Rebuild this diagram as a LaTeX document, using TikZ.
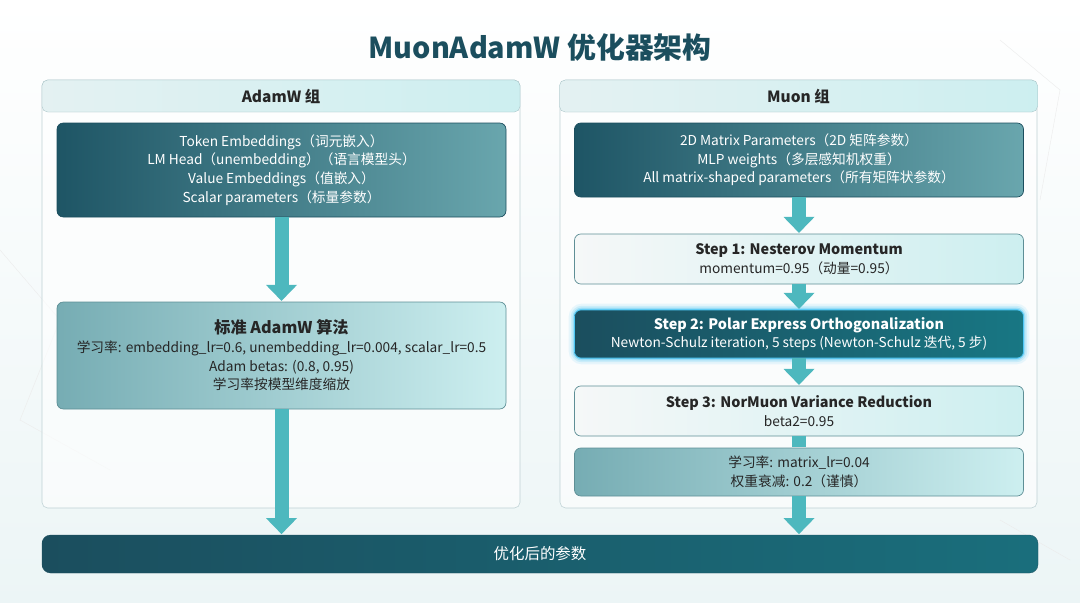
\documentclass[tikz,border=0pt]{standalone}
\usepackage{fontspec}
\setmainfont{Noto Sans CJK SC}
\usetikzlibrary{arrows.meta,positioning}
\definecolor{titleteal}{HTML}{1B4E5E}
\definecolor{darkteal}{HTML}{1E5565}
\definecolor{midteal}{HTML}{5E9EA6}
\definecolor{lightteal}{HTML}{CDEFF0}
\definecolor{paleteal}{HTML}{E4F1F2}
\definecolor{flowteal}{HTML}{4DB8BE}
\definecolor{edgeteal}{HTML}{5E8F96}
\def\pxu{0.05cm}
\tikzset{
  panel/.style={draw=edgeteal!40, rounded corners=8pt, fill=white, fill opacity=0.6, line width=0.8pt},
  header/.style={draw=edgeteal!60, rounded corners=8pt, left color=paleteal, right color=lightteal,
    minimum width=478*\pxu, minimum height=32*\pxu, font=\fontsize{22}{26}\selectfont\bfseries, text=black!85},
  darkbox/.style={draw=titleteal, rounded corners=9pt, left color=darkteal, right color=midteal!90!lightteal,
    text=white, minimum width=449*\pxu, align=center, font=\fontsize{19.5}{26.5}\selectfont, line width=1pt},
  midbox/.style={draw=edgeteal, rounded corners=9pt, left color=midteal!85!white, right color=lightteal,
    text=black!85, minimum width=449*\pxu, align=center, font=\fontsize{19.5}{26.5}\selectfont, line width=1pt},
  lightbox/.style={draw=edgeteal, rounded corners=9pt, left color=paleteal!80!gray!20, right color=lightteal,
    text=black!85, minimum width=449*\pxu, align=center, font=\fontsize{19.5}{26.5}\selectfont, line width=1pt},
  flow/.style={draw=flowteal, line width=14*\pxu, -{Triangle[width=30*\pxu,length=16*\pxu]}, shorten >=1pt},
  stephead/.style={font=\fontsize{20.5}{27}\selectfont\bfseries}
}
\begin{document}
\begin{tikzpicture}[x=\pxu,y=-\pxu]
% Hintergrund
\useasboundingbox (0,0) rectangle (1080,603);
\fill[top color=white, bottom color=paleteal!70] (0,0) rectangle (1080,603);
\foreach \a/\b in {{0,250}/{60,320},{60,320}/{20,420},{20,420}/{110,470},{1000,40}/{1060,90},{1060,90}/{1040,200},{1000,520}/{1070,560}}
  \draw[gray!15, line width=0.6pt] (\a) -- (\b);

% Titel
\node[font=\fontsize{41}{46}\selectfont\bfseries, text=titleteal] (title) at (540,48) {MuonAdamW 优化器架构};

% Gruppen
\draw[panel] (42,80) rectangle (520,508);
\draw[panel] (560,80) rectangle (1037,508);
\node[header] (hadam) at (281,96) {AdamW 组};
\node[header] (hmuon) at (798.5,96) {Muon 组};

% AdamW Gruppe
\node[darkbox, minimum height=94*\pxu] (emb) at (281.5,170)
  {Token Embeddings（词元嵌入）\\LM Head（unembedding）（语言模型头）\\Value Embeddings（值嵌入）\\Scalar parameters（标量参数）};
\node[midbox, minimum height=107*\pxu] (adamalg) at (281.5,355.5)
  {{\fontsize{23}{32}\selectfont\bfseries 标准 AdamW 算法}\\学习率: embedding\_lr=0.6, unembedding\_lr=0.004, scalar\_lr=0.5\\Adam betas: (0.8, 0.95)\\学习率按模型维度缩放};

% Muon Gruppe
\node[darkbox, minimum height=74*\pxu] (mat) at (799,160)
  {2D Matrix Parameters（2D 矩阵参数）\\MLP weights（多层感知机权重）\\All matrix-shaped parameters（所有矩阵状参数）};
\node[lightbox, minimum height=50*\pxu] (step1) at (799,259)
  {{\fontsize{20.5}{27}\selectfont\bfseries Step 1: Nesterov Momentum}\\momentum=0.95（动量=0.95）};
% Glow
\foreach \w/\o in {18/0.08,12/0.12,7/0.2,3/0.35}
  \draw[cyan, line width=\w pt, opacity=\o, rounded corners=10pt] (575,310) rectangle (1023,358);
\node[darkbox, draw=cyan!70, minimum height=48*\pxu, left color=titleteal, right color=darkteal!80!cyan] (step2) at (799,334)
  {{\fontsize{20.5}{27}\selectfont\bfseries Step 2: Polar Express Orthogonalization}\\Newton-Schulz iteration, 5 steps (Newton-Schulz 迭代, 5 步)};
\node[lightbox, minimum height=50*\pxu] (step3) at (799,411)
  {{\fontsize{20.5}{27}\selectfont\bfseries Step 3: NorMuon Variance Reduction}\\beta2=0.95};
\node[midbox, minimum height=48*\pxu] (lr) at (799,472)
  {学习率: matrix\_lr=0.04\\权重衰减: 0.2（谨慎）};

% Ergebnis
\node[draw=titleteal, rounded corners=12pt, left color=titleteal, right color=darkteal!85!cyan,
  minimum width=996*\pxu, minimum height=38*\pxu, text=white, font=\fontsize{22}{26}\selectfont] (out) at (540,554) {优化后的参数};

% Pfeile
\draw[flow] (emb) -- (adamalg);
\draw[flow] (adamalg.south) -- (adamalg.south |- out.north);
\draw[flow] (mat) -- (step1);
\draw[flow] (step1) -- (step2);
\draw[flow] (step2) -- (step3);
\draw[flow, -] (step3) -- (lr);
\draw[flow] (lr.south) -- (lr.south |- out.north);
\end{tikzpicture}
\end{document}
